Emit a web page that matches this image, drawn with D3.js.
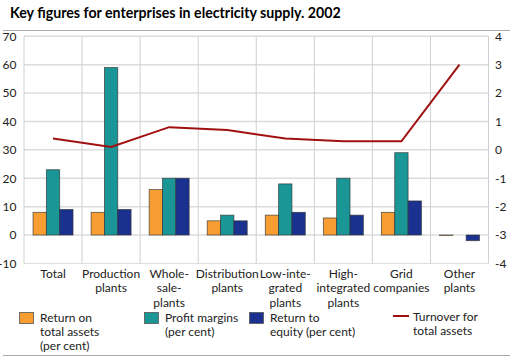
<!DOCTYPE html>
<html><head><meta charset="utf-8">
<script src="https://cdn.jsdelivr.net/npm/d3@7"></script>
<style>
body{margin:0;background:#fff;}
svg{display:block;font-family:Lato,sans-serif;}
</style></head>
<body><svg id="c" width="515" height="360"></svg>
<script>
const categories = [["Total"],["Production","plants"],["Whole-","sale-","plants"],["Distribution","plants"],["Low-inte-","grated","plants"],["High-","integrated","plants"],["Grid","companies"],["Other","plants"]];
const returnAssets = [8, 8, 16, 5, 7, 6, 8, 0];
const profitMargins = [23, 59, 20, 7, 18, 20, 29, null];
const returnEquity = [9, 9, 20, 5, 8, 7, 12, -2];
const turnover = [0.4, 0.1, 0.8, 0.7, 0.4, 0.3, 0.3, 3.0];
const leftTicks = [-10,0,10,20,30,40,50,60,70];
const rightTicks = [-4,-3,-2,-1,0,1,2,3,4];
const seriesNames = [["Return on","total assets","(per cent)"],["Profit margins","(per cent)"],["Return to","equity (per cent)"],["Turnover for","total assets"]];
const colors = ["#f79d32","#1a9696","#1b3190","#a01010"];

const svg = d3.select("#c");
const L = 24, R = 488.5, T = 36.3, B = 263.4;
const x = d3.scaleBand().domain(d3.range(categories.length)).range([L,R]);
const y = d3.scaleLinear().domain([-10,70]).range([B,T]);
const y2 = d3.scaleLinear().domain([-4,4]).range([B,T]);
const inner = d3.scaleBand().domain([0,1,2]).range([0,40]);
const FS = 12;
const fmt = d => String(d);

// title
svg.append("text").attr("x",10).attr("y",18).attr("font-size",14.2).attr("font-weight",700).attr("fill","#000")
  .text("Key figures for enterprises in electricity supply. 2002");
svg.append("line").attr("x1",3).attr("x2",510).attr("y1",30.5).attr("y2",30.5).attr("stroke","#aaa").attr("stroke-width",1);

// grid
const g = svg.append("g");
leftTicks.forEach(t=>{
  g.append("line").attr("x1",L).attr("x2",R).attr("y1",y(t)).attr("y2",y(t))
   .attr("stroke","#dcdcdc").attr("stroke-width",t===-10?1:1.5);
});
d3.range(categories.length+1).forEach(i=>{
  const xx = i<categories.length ? x(i) : R;
  g.append("line").attr("x1",xx).attr("x2",xx).attr("y1",T).attr("y2",B)
   .attr("stroke","#d0d0d0").attr("stroke-width",1);
});

// axes labels
const yAxis = d3.axisLeft(y).tickValues(leftTicks).tickSize(0).tickPadding(0).tickFormat(fmt);
const ax = svg.append("g").attr("transform",`translate(16.5,0)`).call(yAxis);
ax.select(".domain").remove();
ax.selectAll("text").attr("font-size",FS).attr("fill","#222").attr("font-family","Lato");
const yAxis2 = d3.axisRight(y2).tickValues(rightTicks).tickSize(0).tickPadding(0).tickFormat(fmt);
const ax2 = svg.append("g").attr("transform",`translate(495,0)`).call(yAxis2);
ax2.select(".domain").remove();
ax2.selectAll("text").attr("font-size",FS).attr("fill","#222").attr("font-family","Lato");

// bars
const series = [returnAssets, profitMargins, returnEquity];
series.forEach((vals,si)=>{
  svg.append("g").selectAll("rect").data(vals.map((v,i)=>({v,i})).filter(d=>d.v!==null)).join("rect")
    .attr("x",d=>x(d.i)+(x.bandwidth()-40)/2+inner(si))
    .attr("width",inner.bandwidth())
    .attr("y",d=>Math.min(y(d.v),y(0)))
    .attr("height",d=>Math.max(Math.abs(y(d.v)-y(0)),0.5))
    .attr("fill",colors[si]).attr("stroke","#333").attr("stroke-opacity",0.8).attr("stroke-width",0.8);
});

// line
const line = d3.line().x((d,i)=>x(i)+x.bandwidth()/2).y(d=>y2(d));
svg.append("path").datum(turnover).attr("d",line).attr("fill","none").attr("stroke",colors[3]).attr("stroke-width",2);

// x labels
categories.forEach((lines,i)=>{
  const t = svg.append("text").attr("x",x(i)+x.bandwidth()/2).attr("y",278).attr("text-anchor","middle")
    .attr("font-size",FS).attr("fill","#222");
  lines.forEach((s,j)=>t.append("tspan").attr("x",x(i)+x.bandwidth()/2).attr("dy",j?14.3:0).text(s));
});

// legend
const lx = [19,144,249,393];
seriesNames.forEach((lines,i)=>{
  if(i<3){
    svg.append("rect").attr("x",lx[i]+0.5).attr("y",312.5).attr("width",14).attr("height",11)
      .attr("fill",colors[i]).attr("stroke","#555").attr("stroke-width",0.8);
  } else {
    svg.append("line").attr("x1",lx[i]).attr("x2",lx[i]+16).attr("y1",316).attr("y2",316).attr("stroke",colors[3]).attr("stroke-width",2);
  }
  const tx = i<3 ? lx[i]+21 : lx[i]+20;
  const t = svg.append("text").attr("x",tx).attr("y",i<3?322:320.5).attr("font-size",FS).attr("fill","#222");
  lines.forEach((s,j)=>t.append("tspan").attr("x",tx).attr("dy",j?14.2:0).text(s));
});
svg.append("line").attr("x1",3).attr("x2",510).attr("y1",355.5).attr("y2",355.5).attr("stroke","#aaa").attr("stroke-width",1);
</script></body></html>
